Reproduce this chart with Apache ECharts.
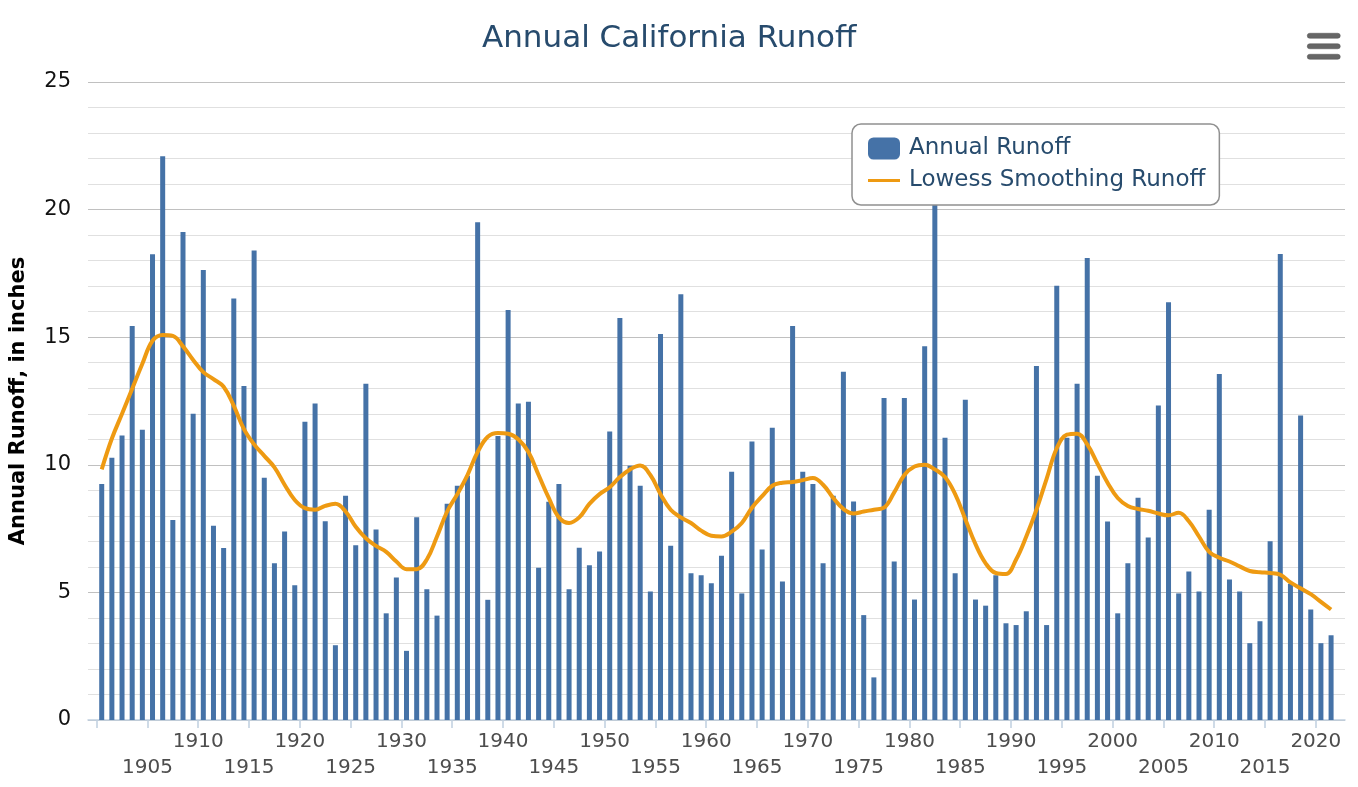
<!DOCTYPE html>
<html>
<head>
<meta charset="utf-8">
<script src="https://cdn.jsdelivr.net/npm/echarts@6/dist/echarts.min.js"></script>
<style>
html,body{margin:0;padding:0;background:#fff;}
#chart{width:1358px;height:787px;}
</style>
</head>
<body>
<div id="chart"></div>
<script>
// ---- data ----
const firstYear = 1901;
const lastYear = 2022;
const years = [];
for (let y = firstYear; y <= lastYear; y++) years.push(y);

const annualRunoff = [
  9.25, 10.28, 11.15, 15.44, 11.37, 18.25, 22.09, 7.84, 19.12, 12.0,
  17.63, 7.61, 6.74, 16.52, 13.09, 18.40, 9.49, 6.14, 7.39, 5.28,
  11.69, 12.40, 7.79, 2.93, 8.79, 6.85, 13.18, 7.46, 4.18, 5.58,
  2.71, 7.94, 5.12, 4.09, 8.47, 9.18, 9.57, 19.50, 4.71, 11.13,
  16.07, 12.40, 12.47, 5.97, 8.55, 9.25, 5.12, 6.75, 6.06, 6.60,
  11.30, 15.75, 9.96, 9.18, 5.04, 15.13, 6.83, 16.68, 5.75, 5.67,
  5.36, 6.44, 9.73, 4.96, 10.91, 6.68, 11.45, 5.43, 15.44, 9.73,
  9.25, 6.14, 8.79, 13.65, 8.56, 4.11, 1.67, 12.62, 6.21, 12.62,
  4.72, 14.65, 22.5, 11.06, 5.75, 12.55, 4.72, 4.48, 5.67, 3.79,
  3.72, 4.26, 13.87, 3.72, 17.02, 11.06, 13.18, 18.10, 9.57, 7.78,
  4.18, 6.14, 8.71, 7.15, 12.32, 16.37, 4.96, 5.82, 5.04, 8.24,
  13.56, 5.51, 5.04, 3.01, 3.87, 7.00, 18.26, 5.34, 11.93, 4.33,
  3.01, 3.32
];

const lowessRunoff = [
  9.82, 11.03, 12.0, 12.98, 13.96, 14.86, 15.09, 15.05, 14.64, 14.11,
  13.63, 13.36, 13.06, 12.31, 11.40, 10.80, 10.35, 9.90, 9.22, 8.62,
  8.3, 8.24, 8.39, 8.47, 8.17, 7.57, 7.12, 6.82, 6.59, 6.21,
  5.91, 5.91, 6.29, 7.19, 8.17, 8.85, 9.60, 10.50, 11.10, 11.25,
  11.22, 11.0, 10.50, 9.60, 8.70, 7.94, 7.72, 7.94, 8.47, 8.85,
  9.12, 9.52, 9.82, 9.97, 9.60, 8.85, 8.24, 7.94, 7.72, 7.42,
  7.22, 7.19, 7.38, 7.72, 8.32, 8.77, 9.18, 9.30, 9.33, 9.40,
  9.48, 9.22, 8.70, 8.27, 8.09, 8.17, 8.24, 8.32, 8.92, 9.60,
  9.93, 10.00, 9.82, 9.52, 8.85, 7.87, 6.89, 6.14, 5.76, 5.72,
  6.29, 7.19, 8.24, 9.45, 10.65, 11.18, 11.22, 10.80, 10.05, 9.30,
  8.70, 8.39, 8.27, 8.2, 8.09, 8.02, 8.12, 7.79, 7.19, 6.59,
  6.36, 6.21, 6.02, 5.84, 5.79, 5.76, 5.69, 5.39, 5.16, 4.93,
  4.63, 4.33
];

const xTickValues = [1900,1905,1910,1915,1920,1925,1930,1935,1940,1945,1950,1955,1960,1965,1970,1975,1980,1985,1990,1995,2000,2005,2010,2015,2020];
const xLabelValues = [1905,1910,1915,1920,1925,1930,1935,1940,1945,1950,1955,1960,1965,1970,1975,1980,1985,1990,1995,2000,2005,2010,2015,2020];

// water-year bars sit half a year before the year tick
const yearOffset = -0.5;
const barData = years.map((y, i) => [y + yearOffset, annualRunoff[i]]);
const lineData = years.map((y, i) => [y + yearOffset, lowessRunoff[i]]);

const FONT = 'DejaVu Sans';
const lineLegendIcon = 'path://M0,0L0,0M32,22L32,22M0,9.5L32,9.5L32,12.5L0,12.5Z';

const chart = echarts.init(document.getElementById('chart'), null, {renderer: 'canvas'});
chart.setOption({
  animation: false,
  backgroundColor: '#ffffff',
  title: {
    text: 'Annual California Runoff',
    left: 482,
    top: 23,
    padding: 0,
    textStyle: {fontFamily: FONT, fontSize: 31, fontWeight: 'normal', color: '#274b6d'}
  },
  legend: {
    orient: 'vertical',
    left: 852,
    top: 124,
    padding: [13, 14, 13, 16],
    itemWidth: 32,
    itemHeight: 22,
    itemGap: 9,
    backgroundColor: '#ffffff',
    borderColor: '#909090',
    borderWidth: 1.5,
    borderRadius: 9,
    z: 10,
    textStyle: {fontFamily: FONT, fontSize: 23, color: '#274b6d', padding: [0, 0, 0, 4]},
    data: [
      {name: 'Annual Runoff', icon: 'roundRect'},
      {name: 'Lowess Smoothing Runoff', icon: lineLegendIcon, itemStyle: {color: '#EE9A12'}}
    ]
  },
  grid: {left: 88, right: 13, top: 82, bottom: 67, containLabel: false, outerBoundsMode: 'none'},
  xAxis: {
    type: 'value',
    min: 1899.15,
    max: 2022.87,
    splitLine: {show: false},
    axisLine: {show: true, lineStyle: {color: '#C0D0E0', width: 1.5}},
    axisTick: {show: true, length: 8, customValues: xTickValues, lineStyle: {color: '#C0D0E0', width: 1.5}},
    axisLabel: {
      customValues: xLabelValues,
      showMinLabel: true,
      showMaxLabel: true,
      hideOverlap: false,
      margin: 9,
      fontFamily: FONT,
      fontSize: 20,
      color: '#4d4d4d',
      lineHeight: 26,
      formatter: function (v) { return (v % 10 === 0) ? String(v) : '\n' + v; }
    }
  },
  yAxis: {
    type: 'value',
    min: 0,
    max: 25,
    interval: 5,
    name: 'Annual Runoff, in inches',
    nameLocation: 'middle',
    nameGap: 59,
    nameMoveOverlap: false,
    nameTextStyle: {fontFamily: FONT, fontSize: 21, fontWeight: 'bold', color: '#000'},
    axisLine: {show: false},
    axisTick: {show: false},
    axisLabel: {margin: 17, fontFamily: FONT, fontSize: 21, color: '#111'},
    splitLine: {show: true, lineStyle: {color: '#C0C0C0', width: 1.2}},
    minorTick: {show: false, splitNumber: 5},
    minorSplitLine: {show: true, lineStyle: {color: '#E0E0E0', width: 1.2}}
  },
  series: [
    {
      name: 'Annual Runoff',
      type: 'bar',
      data: barData,
      barWidth: 5,
      itemStyle: {color: '#4572A7'},
      z: 2
    },
    {
      name: 'Lowess Smoothing Runoff',
      type: 'line',
      data: lineData,
      smooth: 0.4,
      symbol: 'none',
      lineStyle: {color: '#EE9A12', width: 4},
      itemStyle: {color: '#EE9A12'},
      z: 3
    }
  ],
  graphic: [
    {type: 'rect', left: 1307, top: 33, shape: {width: 33, height: 5, r: 2.5}, style: {fill: '#666', stroke: '#555', lineWidth: 0.5}},
    {type: 'rect', left: 1307, top: 43.5, shape: {width: 33, height: 5, r: 2.5}, style: {fill: '#666', stroke: '#555', lineWidth: 0.5}},
    {type: 'rect', left: 1307, top: 54, shape: {width: 33, height: 5, r: 2.5}, style: {fill: '#666', stroke: '#555', lineWidth: 0.5}}
  ]
});
</script>
</body>
</html>
